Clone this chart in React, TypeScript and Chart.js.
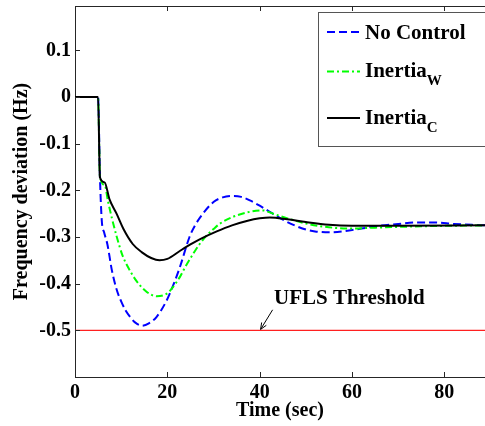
import React, { useEffect, useRef } from "react";
import { Chart, registerables } from "chart.js";

Chart.register(...registerables);

// ---- data ----
const noControlTime = [0, 5, 5.4, 5.8, 6.3, 7, 8, 9, 10, 11, 12, 13, 14.5, 16, 17.6, 19.8, 21, 22.7, 24.8, 26, 27.7, 30, 32, 34.3, 36, 38, 40, 42, 44, 46, 48, 50, 52, 55, 58, 62, 66, 70, 74, 78, 82, 86, 88.8];
const noControlFreq = [0, 0, -0.17, -0.265, -0.29, -0.315, -0.372, -0.412, -0.438, -0.458, -0.472, -0.483, -0.49, -0.485, -0.472, -0.437, -0.41, -0.365, -0.3, -0.275, -0.25, -0.225, -0.215, -0.212, -0.214, -0.222, -0.233, -0.245, -0.257, -0.268, -0.277, -0.284, -0.288, -0.29, -0.288, -0.282, -0.276, -0.272, -0.269, -0.269, -0.272, -0.274, -0.275];

const inertiaWTime = [0, 5, 5.4, 6.5, 7.1, 8, 9, 10.3, 11.5, 13.3, 15, 16.2, 17.7, 19.8, 21, 22.7, 24, 25.6, 27, 28.5, 30, 31.3, 34.2, 37.4, 40.7, 42.9, 46, 50, 54, 59.5, 65, 75, 88.8];
const inertiaWFreq = [0, 0, -0.17, -0.19, -0.221, -0.26, -0.298, -0.34, -0.365, -0.394, -0.413, -0.422, -0.427, -0.422, -0.41, -0.386, -0.362, -0.336, -0.315, -0.297, -0.283, -0.272, -0.257, -0.247, -0.243, -0.25, -0.26, -0.271, -0.278, -0.282, -0.28, -0.277, -0.275];

const inertiaCTime = [0, 5, 5.4, 6.4, 7.5, 9, 10.5, 12.5, 14.5, 16.5, 18.3, 20, 22.7, 25, 27, 30.7, 34, 37.4, 40, 42.2, 46, 50, 55, 60, 70, 88.8];
const inertiaCFreq = [0, 0, -0.172, -0.183, -0.22, -0.25, -0.283, -0.315, -0.333, -0.345, -0.35, -0.347, -0.33, -0.316, -0.305, -0.288, -0.275, -0.265, -0.26, -0.258, -0.262, -0.268, -0.274, -0.276, -0.276, -0.275];

const thresholdTime = [0, 88.8];
const thresholdFreq = [-0.5, -0.5];

const xRange = [0, 88.8];
const yRange = [-0.6, 0.195];
const xTickValues = [0, 20, 40, 60, 80];
const yTickValues = [-0.5, -0.4, -0.3, -0.2, -0.1, 0, 0.1];

const legendMain = ["No Control", "Inertia", "Inertia"];
const legendSub = ["", "W", "C"];

const annotationText = "UFLS Threshold";
const annotationTip = [40.2, -0.498];
const annotationTail = [42.8, -0.456];
const annotationTextPos = [43.1, -0.4437];

const FONT = "'Liberation Serif', 'Times New Roman', serif";

function toPoints(t: number[], v: number[]) {
  return t.map((x, i) => ({ x, y: v[i] }));
}

const framePlugin = {
  id: "frame",
  afterDraw(chart: any) {
    const { ctx, chartArea, scales } = chart;
    const xs = scales.x;
    const ys = scales.y;
    ctx.save();
    // top border
    ctx.strokeStyle = "#262626";
    ctx.lineWidth = 1;
    ctx.beginPath();
    ctx.moveTo(chartArea.left, chartArea.top + 0.5);
    ctx.lineTo(chartArea.right, chartArea.top + 0.5);
    ctx.stroke();
    // inward ticks
    ctx.beginPath();
    xTickValues.forEach((v) => {
      const px = Math.round(xs.getPixelForValue(v)) + 0.5;
      ctx.moveTo(px, chartArea.bottom);
      ctx.lineTo(px, chartArea.bottom - 5);
      ctx.moveTo(px, chartArea.top);
      ctx.lineTo(px, chartArea.top + 5);
    });
    yTickValues.forEach((v) => {
      const py = Math.round(ys.getPixelForValue(v)) + 0.5;
      ctx.moveTo(chartArea.left, py);
      ctx.lineTo(chartArea.left + 5, py);
    });
    ctx.stroke();

    // annotation
    const tipX = xs.getPixelForValue(annotationTip[0]);
    const tipY = ys.getPixelForValue(annotationTip[1]);
    const tailX = xs.getPixelForValue(annotationTail[0]);
    const tailY = ys.getPixelForValue(annotationTail[1]);
    ctx.strokeStyle = "#000";
    ctx.lineWidth = 1;
    ctx.beginPath();
    ctx.moveTo(tailX, tailY);
    ctx.lineTo(tipX, tipY);
    ctx.stroke();
    const ang = Math.atan2(tipY - tailY, tipX - tailX);
    const ah = 7;
    ctx.beginPath();
    ctx.moveTo(tipX - ah * Math.cos(ang - 0.4), tipY - ah * Math.sin(ang - 0.4));
    ctx.lineTo(tipX, tipY);
    ctx.lineTo(tipX - ah * Math.cos(ang + 0.4), tipY - ah * Math.sin(ang + 0.4));
    ctx.stroke();
    ctx.fillStyle = "#000";
    ctx.font = `bold 21px ${FONT}`;
    ctx.textAlign = "left";
    ctx.textBaseline = "alphabetic";
    ctx.fillText(annotationText, xs.getPixelForValue(annotationTextPos[0]), ys.getPixelForValue(annotationTextPos[1]));

    // legend
    const bx = chartArea.right - 167;
    const by = chartArea.top + 6;
    const bh = 134;
    ctx.fillStyle = "#fff";
    ctx.fillRect(bx, by, 200, bh);
    ctx.strokeStyle = "#555";
    ctx.lineWidth = 1;
    ctx.strokeRect(bx + 0.5, by + 0.5, 200, bh);
    const rows = [20, 59.5, 106];
    const baselines = [27, 65, 112];
    [0, 1, 2].forEach((i) => {
      const ds = chart.data.datasets[i];
      ctx.save();
      ctx.strokeStyle = ds.borderColor;
      ctx.lineWidth = ds.borderWidth;
      ctx.setLineDash(ds.borderDash || []);
      ctx.beginPath();
      ctx.moveTo(bx + 9, by + rows[i]);
      ctx.lineTo(bx + 42, by + rows[i]);
      ctx.stroke();
      ctx.restore();
      ctx.fillStyle = "#000";
      ctx.font = `bold 21px ${FONT}`;
      ctx.textAlign = "left";
      ctx.textBaseline = "alphabetic";
      const tx = bx + 47;
      ctx.fillText(legendMain[i], tx, by + baselines[i]);
      if (legendSub[i]) {
        const w = ctx.measureText(legendMain[i]).width;
        ctx.font = `bold 15px ${FONT}`;
        ctx.fillText(legendSub[i], tx + w, by + baselines[i] + 8);
      }
    });
    ctx.restore();
  },
};

export default function App() {
  const ref = useRef<HTMLCanvasElement | null>(null);
  useEffect(() => {
    if (!ref.current) return;
    const chart = new Chart(ref.current, {
      type: "line",
      data: {
        datasets: [
          {
            label: "No Control",
            data: toPoints(noControlTime, noControlFreq),
            borderColor: "#0000ff",
            borderWidth: 2,
            borderDash: [8, 4],
            pointRadius: 0,
            cubicInterpolationMode: "monotone",
            fill: false,
            order: 3,
          },
          {
            label: "InertiaW",
            data: toPoints(inertiaWTime, inertiaWFreq),
            borderColor: "#00ff00",
            borderWidth: 2,
            borderDash: [7, 3, 2, 3],
            pointRadius: 0,
            cubicInterpolationMode: "monotone",
            fill: false,
            order: 2,
          },
          {
            label: "InertiaC",
            data: toPoints(inertiaCTime, inertiaCFreq),
            borderColor: "#000000",
            borderWidth: 2,
            pointRadius: 0,
            cubicInterpolationMode: "monotone",
            fill: false,
            order: 1,
          },
          {
            label: "UFLS",
            data: toPoints(thresholdTime, thresholdFreq),
            borderColor: "#ff2020",
            borderWidth: 1.2,
            pointRadius: 0,
            fill: false,
            order: 4,
          },
        ],
      },
      options: {
        animation: false,
        responsive: false,
        devicePixelRatio: 1,
        layout: { padding: { top: 6, right: 0, left: 0, bottom: 0 } },
        plugins: { legend: { display: false }, tooltip: { enabled: false } },
        scales: {
          x: {
            type: "linear",
            min: xRange[0],
            max: xRange[1],
            grid: { display: true, drawOnChartArea: false, drawTicks: false },
            border: { display: true, color: "#262626", width: 1 },
            ticks: {
              stepSize: 20,
              includeBounds: false,
              autoSkip: false,
              maxRotation: 0,
              padding: 4,
              color: "#000",
              font: { family: FONT, size: 20, weight: "bold" },
              callback: (v: any) => (xTickValues.includes(Number(v)) ? String(v) : ""),
            },
            title: {
              display: true,
              text: "Time (sec)",
              color: "#000",
              font: { family: FONT, size: 20, weight: "bold" },
              padding: { top: 0, bottom: 3 },
            },
            afterFit: (s: any) => {
              s.height = 49;
              s.paddingLeft = 0;
              s.paddingRight = 0;
            },
          },
          y: {
            type: "linear",
            min: yRange[0],
            max: yRange[1],
            grid: { display: true, drawOnChartArea: false, drawTicks: false },
            border: { display: true, color: "#262626", width: 1 },
            ticks: {
              stepSize: 0.1,
              includeBounds: false,
              autoSkip: false,
              padding: 4,
              color: "#000",
              font: { family: FONT, size: 20, weight: "bold" },
              callback: (v: any) => {
                const r = Math.round(Number(v) * 10) / 10;
                const hit = yTickValues.find((t) => Math.abs(t - r) < 1e-9);
                if (hit === undefined) return "";
                return hit === 0 ? "0" : hit.toFixed(1);
              },
            },
            title: {
              display: true,
              text: "Frequency deviation (Hz)",
              color: "#000",
              font: { family: FONT, size: 20, weight: "bold" },
              padding: { top: 10, bottom: 0 },
            },
            afterFit: (s: any) => {
              s.width = 75;
              s.paddingTop = 0;
              s.paddingBottom = 0;
            },
          },
        },
      },
      plugins: [framePlugin],
    } as any);
    return () => chart.destroy();
  }, []);
  return (
    <div style={{ position: "fixed", left: 0, top: 0, width: 485, height: 426, background: "#fff" }}>
      <canvas ref={ref} width={485} height={426} style={{ width: 485, height: 426, display: "block" }} />
    </div>
  );
}
